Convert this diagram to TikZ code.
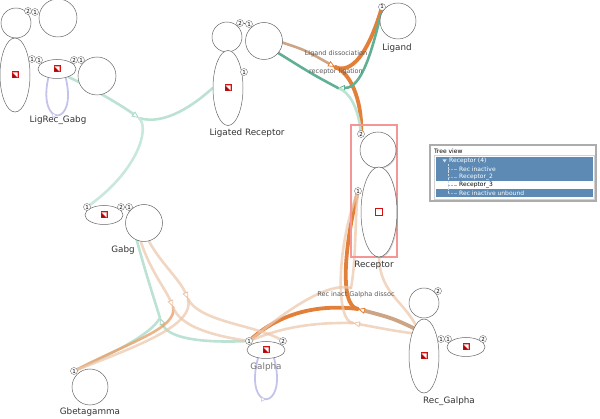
\documentclass[tikz,border=0pt]{standalone}
\usepackage{fontspec}
\setmainfont{DejaVu Sans}
\usetikzlibrary{shapes.geometric,arrows.meta,shadows,backgrounds,decorations.markings}
\definecolor{tealc}{RGB}{98,176,148}
\definecolor{mintc}{RGB}{188,226,211}
\definecolor{orangec}{RGB}{226,128,58}
\definecolor{tanc}{RGB}{204,164,134}
\definecolor{paleorange}{RGB}{236,200,174}
\definecolor{lavc}{RGB}{196,196,234}
\definecolor{treeblue}{RGB}{92,138,180}
\definecolor{bondc}{RGB}{70,70,225}
\definecolor{iconred}{RGB}{214,16,16}
\definecolor{selpink}{RGB}{245,150,150}

\begin{document}
\begin{tikzpicture}[x=1pt,y=-1pt,
  agent/.style={circle,draw=gray!80!black,fill=white,line width=0.5pt,inner sep=0pt},
  comp/.style={ellipse,draw=gray!80!black,fill=white,line width=0.5pt,inner sep=0pt},
  site/.style={circle,draw=gray!90!black,fill=white,line width=0.4pt,inner sep=0pt,minimum size=7pt,font=\fontsize{5.5}{5.5}\selectfont},
  agentlabel/.style={font=\fontsize{8.8}{8.8}\selectfont,text=black!80},
  rxnlabel/.style={font=\fontsize{6.5}{6.5}\selectfont,text=black!65},
  treetext/.style={font=\fontsize{6}{6}\selectfont,anchor=west,inner sep=0pt},
  rxn/.style={line width=2.6pt,line cap=round},
  bold/.style={line width=3.8pt,line cap=round},
  faded/.style={rxn,paleorange,opacity=0.75},
  rxntip/.style={-{Triangle[color=#1,open,fill=white,length=7pt,width=6pt,line width=0.8pt]}},
  rxntip/.default=tealc,
  bond/.style={bondc,line width=0.6pt},
  loopedge/.style={lavc,line width=1.8pt,postaction={decorate},
    decoration={markings,mark=at position 0.5 with {\arrow{Triangle[open,fill=white,length=5pt,width=5pt,line width=0.6pt]}}}},
  recshadow/.style={drop shadow={opacity=0.3,shadow xshift=1pt,shadow yshift=-1pt}},
  stateicon/.pic={
    \fill[iconred] (-3.5,-3.5) rectangle (3.5,3.5);
    \fill[white] (-2.5,-2.5) -- (2.5,-2.5) -- (2.5,2.5) -- cycle;
    \fill[iconred!70!black] (-2.5,-1) -- (1,2.5) -- (-2.5,2.5) -- cycle;
  }]
\useasboundingbox (0,0) rectangle (600,419);

\coordinate (jA) at (139,118);
\coordinate (jLD) at (335,67);
\coordinate (jRL) at (338,88);
\coordinate (jRG) at (358,309);
\coordinate (jRG2) at (353,323);
\coordinate (jRG3) at (351,288);
\coordinate (jGT) at (160,318);
\coordinate (jG1) at (173,307);
\coordinate (jG2) at (188,299);

\node[agent,minimum size=30pt] (lrA) at (16,23) {};
\node[agent,minimum size=38pt] (lrB) at (58,18) {};
\node[comp,minimum width=30pt,minimum height=74pt] (lrC) at (15,75) {};
\node[comp,minimum width=38pt,minimum height=19pt] (lrD) at (57,69) {};
\node[agent,minimum size=38pt] (lrE) at (97,76) {};
\pic at (lrC) {stateicon};
\pic at (lrD) {stateicon};
\node[agentlabel] (lrLabel) at (58,120) {LigRec\_Gabg};

\node[agent,minimum size=30pt] (lgA) at (227,37) {};
\node[agent,minimum size=37pt] (lgB) at (264,41) {};
\node[comp,minimum width=30pt,minimum height=75pt] (lgC) at (228,88) {};
\pic at (lgC) {stateicon};
\node[agentlabel] (lgLabel) at (247,133) {Ligated Receptor};

\node[agent,minimum size=36pt] (lig) at (398,21) {};
\node[agentlabel] (ligLabel) at (397,48) {Ligand};

\node[draw=selpink,line width=1.2pt,inner sep=0pt,minimum width=46pt,minimum height=132pt] (recSel) at (374,191) {};
\node[agent,recshadow,minimum size=36pt] (recA) at (378,150) {};
\node[comp,recshadow,minimum width=36pt,minimum height=90pt] (recB) at (379,212) {};
\node[draw=iconred,line width=0.7pt,minimum size=7pt,inner sep=0pt] (recIcon) at (recB) {};
\node[agentlabel] (recLabel) at (374,265) {Receptor};

\node[comp,minimum width=38pt,minimum height=19pt] (gbA) at (104,215) {};
\node[agent,minimum size=37pt] (gbB) at (144,223) {};
\pic at (gbA) {stateicon};
\node[agentlabel] (gbLabel) at (123,250) {Gabg};

\node[agent,minimum size=36pt] (gbg) at (90,387) {};
\node[agentlabel] (gbgLabel) at (90,412) {Gbetagamma};

\node[comp,minimum width=38pt,minimum height=17pt] (ga) at (266,350) {};
\pic at (ga) {stateicon};
\node[agentlabel,text=black!55] (gaLabel) at (266,367) {Galpha};

\node[agent,minimum size=30pt] (rgA) at (424,303) {};
\node[comp,minimum width=30pt,minimum height=74pt] (rgB) at (424,356) {};
\node[comp,minimum width=38pt,minimum height=19pt] (rgC) at (466,347) {};
\pic at (rgB) {stateicon};
\pic at (rgC) {stateicon};
\node[agentlabel] (rgLabel) at (449,401) {Rec\_Galpha};

\node[site] (lrAs2) at (28,11) {2};
\node[site] (lrBs1) at (35,12) {1};
\node[site] (lrCs1) at (32,59) {1};
\node[site] (lrDs1) at (39,60) {1};
\node[site] (lrDs2) at (74,60) {2};
\node[site] (lrEs1) at (81,60) {1};
\node[site] (lgAs2) at (240,23) {2};
\node[site] (lgBs1) at (249,24) {1};
\node[site] (lgCs1) at (244,72) {1};
\node[site] (ligs1) at (382,7) {1};
\node[site] (recAs2) at (361,134) {2};
\node[site] (recBs1) at (358,191) {1};
\node[site] (gbAs1) at (87,207) {1};
\node[site] (gbAs2) at (121,207) {2};
\node[site] (gbBs1) at (129,207) {1};
\node[site] (gbgs1) at (74,371) {1};
\node[site] (gas1) at (249,341) {1};
\node[site] (gas2) at (283,341) {2};
\node[site] (rgAs2) at (438,291) {2};
\node[site] (rgBs1) at (441,339) {1};
\node[site] (rgCs1) at (448,339) {1};
\node[site] (rgCs2) at (483,339) {2};

\node[rxnlabel] (ldLabel) at (336,54) {Ligand dissociation};
\node[rxnlabel] (rlLabel) at (336,72) {receptor ligation};
\node[rxnlabel] (rgdLabel) at (356,295) {Rec inact Galpha dissoc};

\begin{scope}[on background layer]
\draw[bond] (lrAs2) -- (lrBs1);
\draw[bond] (lrCs1) -- (lrDs1);
\draw[bond] (lrDs2) -- (lrEs1);
\draw[bond] (lgAs2) -- (lgBs1);
\draw[bond] (gbAs2) -- (gbBs1);
\draw[bond] (rgBs1) -- (rgCs1);

\draw[loopedge] (lrD.-135) .. controls (37,128) and (78,128) .. (lrD.-45);
\draw[loopedge] (ga.-135) .. controls (243,413) and (289,413) .. (ga.-45);

\draw[rxn,mintc,rxntip=mintc!80!tealc] (lrD.-35) .. controls (100,92) and (125,108) .. (jA);
\draw[rxn,mintc] (jA) .. controls (165,126) and (195,104) .. (lgC.west);
\draw[rxn,mintc!80] (jA) .. controls (150,128) and (138,170) .. (gbAs1);

\draw[rxn,tanc,rxntip=orangec] (lgB.-5) .. controls (305,50) .. (jLD);
\draw[bold,orangec] (jLD) .. controls (356,76) and (372,40) .. (ligs1);
\draw[bold,orangec] (jLD) .. controls (350,72) and (362,100) .. (recAs2);

\draw[rxn,tealc,rxntip] (lig.160) .. controls (372,50) and (362,88) .. (jRL);
\draw[rxn,mintc] (recAs2) .. controls (358,108) and (350,92) .. (jRL);
\draw[rxn,tealc] (jRL) .. controls (312,74) .. (lgB.-40);

\draw[bold,tanc,rxntip=orangec] (rgB.110) .. controls (392,318) .. (jRG);
\draw[bold,orangec] (jRG) .. controls (338,306) and (346,240) .. (recBs1);
\draw[bold,orangec] (jRG) .. controls (310,303) and (275,318) .. (gas1);

\draw[faded,rxntip=paleorange!70!orangec] (rgB.118) .. controls (390,330) .. (jRG2);
\draw[faded] (jRG2) .. controls (300,322) and (272,332) .. (gas1);
\draw[faded] (jRG2) .. controls (336,322) and (336,250) .. (recBs1);
\draw[faded] (gas1) .. controls (290,308) and (328,282) .. (jRG3);
\draw[faded] (jRG3) .. controls (356,262) and (355,220) .. (recBs1);
\draw[faded] (recB.south) .. controls (380,292) and (402,300) .. (rgB.105);

\draw[rxn,mintc] (gbBs1) .. controls (138,250) and (153,295) .. (jGT);
\draw[rxn,mintc,rxntip=mintc!70!tealc] (gas1) .. controls (200,343) and (168,338) .. (jGT);
\draw[rxn,mintc] (jGT) .. controls (150,335) and (115,352) .. (gbgs1);

\draw[faded,rxntip=paleorange!70!orangec] (gbB.-100) .. controls (150,270) and (166,290) .. (jG1);
\draw[rxn,orangec!75,opacity=0.8] (jG1) .. controls (178,328) and (130,342) .. (gbgs1);
\draw[faded] (jG1) .. controls (180,327) and (215,336) .. (gas1);
\draw[faded,rxntip=paleorange!70!orangec] (gbB.-75) .. controls (160,262) and (180,280) .. (jG2);
\draw[faded] (jG2) .. controls (195,325) and (140,345) .. (gbgs1);
\draw[faded] (jG2) .. controls (200,322) and (255,325) .. (gas2);
\end{scope}

\draw[gray!65,line width=1.6pt,fill=white] (430,145) rectangle (596,201);
\node[treetext] (tvTitle) at (434,151) {Tree view};
\draw[gray!35,line width=0.4pt] (434,155) rectangle (594,199);
\fill[treeblue] (436,157) rectangle (593,181);
\fill[treeblue] (436,189) rectangle (593,197);
\draw[white!70!treeblue,line width=0.4pt,densely dotted] (448,164) -- (448,193);
\foreach \ty in {169,177,185,193} \draw[gray!60,line width=0.4pt,densely dotted] (448,\ty) -- (457,\ty);
\fill[white!75!treeblue] (442.5,159.5) -- (446.5,159.5) -- (444.5,162.5) -- cycle;
\node[treetext,text=white] (tvRoot) at (449,161) {Receptor (4)};
\node[treetext,text=white] (tvRec1) at (459,169) {Rec inactive};
\node[treetext,text=white] (tvRec2) at (459,177) {Receptor\_2};
\node[treetext] (tvRec3) at (459,185) {Receptor\_3};
\node[treetext,text=white] (tvRec4) at (459,193) {Rec inactive unbound};
\end{tikzpicture}
\end{document}
